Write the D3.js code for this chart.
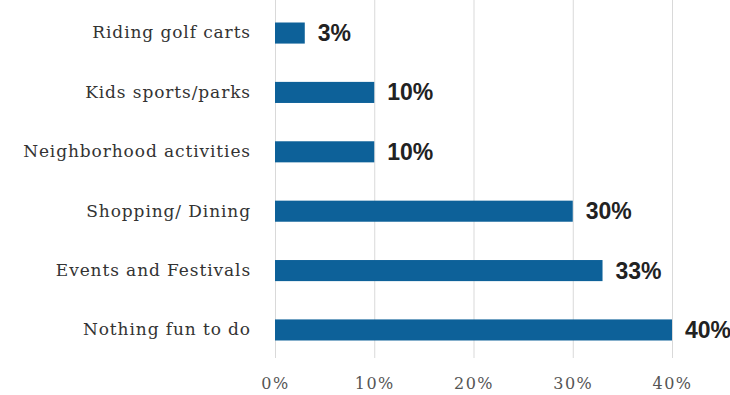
<!DOCTYPE html>
<html>
<head>
<meta charset="utf-8">
<script src="https://cdn.jsdelivr.net/npm/d3@7"></script>
<style>
  html, body { margin: 0; padding: 0; background: #fff; }
  svg { display: block; }
</style>
</head>
<body>
<svg id="chart" width="730" height="395"></svg>
<script>
// Share of respondents per activity (percent)
const categories = [
  "Riding golf carts",
  "Kids sports/parks",
  "Neighborhood activities",
  "Shopping/ Dining",
  "Events and Festivals",
  "Nothing fun to do"
];
const values = [3, 10, 10, 30, 33, 40];
const tickValues = [0, 10, 20, 30, 40];
const tickLabels = ["0%", "10%", "20%", "30%", "40%"];

const svg = d3.select("#chart");

const x = d3.scaleLinear().domain([0, 40]).range([275, 672]);
const y = d3.scaleBand().domain(categories).range([3.5, 359.5]).paddingInner(0.645).paddingOuter(0.32);

// Vertical gridlines
svg.append("g")
  .selectAll("line")
  .data(tickValues)
  .join("line")
  .attr("x1", d => x(d) + 0.5)
  .attr("x2", d => x(d) + 0.5)
  .attr("y1", 0)
  .attr("y2", 358)
  .attr("stroke", "#d9d9d9")
  .attr("stroke-width", 1);

// Bottom axis labels
const xAxis = d3.axisBottom(x)
  .tickValues(tickValues)
  .tickFormat((d, i) => tickLabels[i])
  .tickSize(0)
  .tickPadding(0);
const gx = svg.append("g").attr("transform", "translate(0,378)").call(xAxis);
gx.select(".domain").remove();
gx.selectAll("text")
  .attr("font-family", "'DejaVu Serif', serif")
  .attr("font-size", 16)
  .attr("letter-spacing", 1.5)
  .attr("fill", "#555");

// Category labels
const yAxis = d3.axisLeft(y).tickSize(0).tickPadding(0);
const gy = svg.append("g").attr("transform", "translate(251,0)").call(yAxis);
gy.select(".domain").remove();
gy.selectAll("text")
  .attr("font-family", "'DejaVu Serif', serif")
  .attr("font-size", 17)
  .attr("letter-spacing", 0.9)
  .attr("fill", "#333");

// Bars
svg.append("g")
  .selectAll("rect")
  .data(values)
  .join("rect")
  .attr("x", x(0))
  .attr("y", (d, i) => y(categories[i]))
  .attr("width", d => x(d) - x(0))
  .attr("height", y.bandwidth())
  .attr("fill", "#0d6199");

// Value labels
svg.append("g")
  .selectAll("text")
  .data(values)
  .join("text")
  .attr("x", d => x(d) + 13)
  .attr("y", (d, i) => y(categories[i]) + y.bandwidth() / 2)
  .attr("dy", "0.35em")
  .attr("font-family", "'Liberation Sans', Arial, sans-serif")
  .attr("font-weight", "bold")
  .attr("font-size", 23)
  .attr("fill", "#222")
  .text(d => d + "%");
</script>
</body>
</html>
